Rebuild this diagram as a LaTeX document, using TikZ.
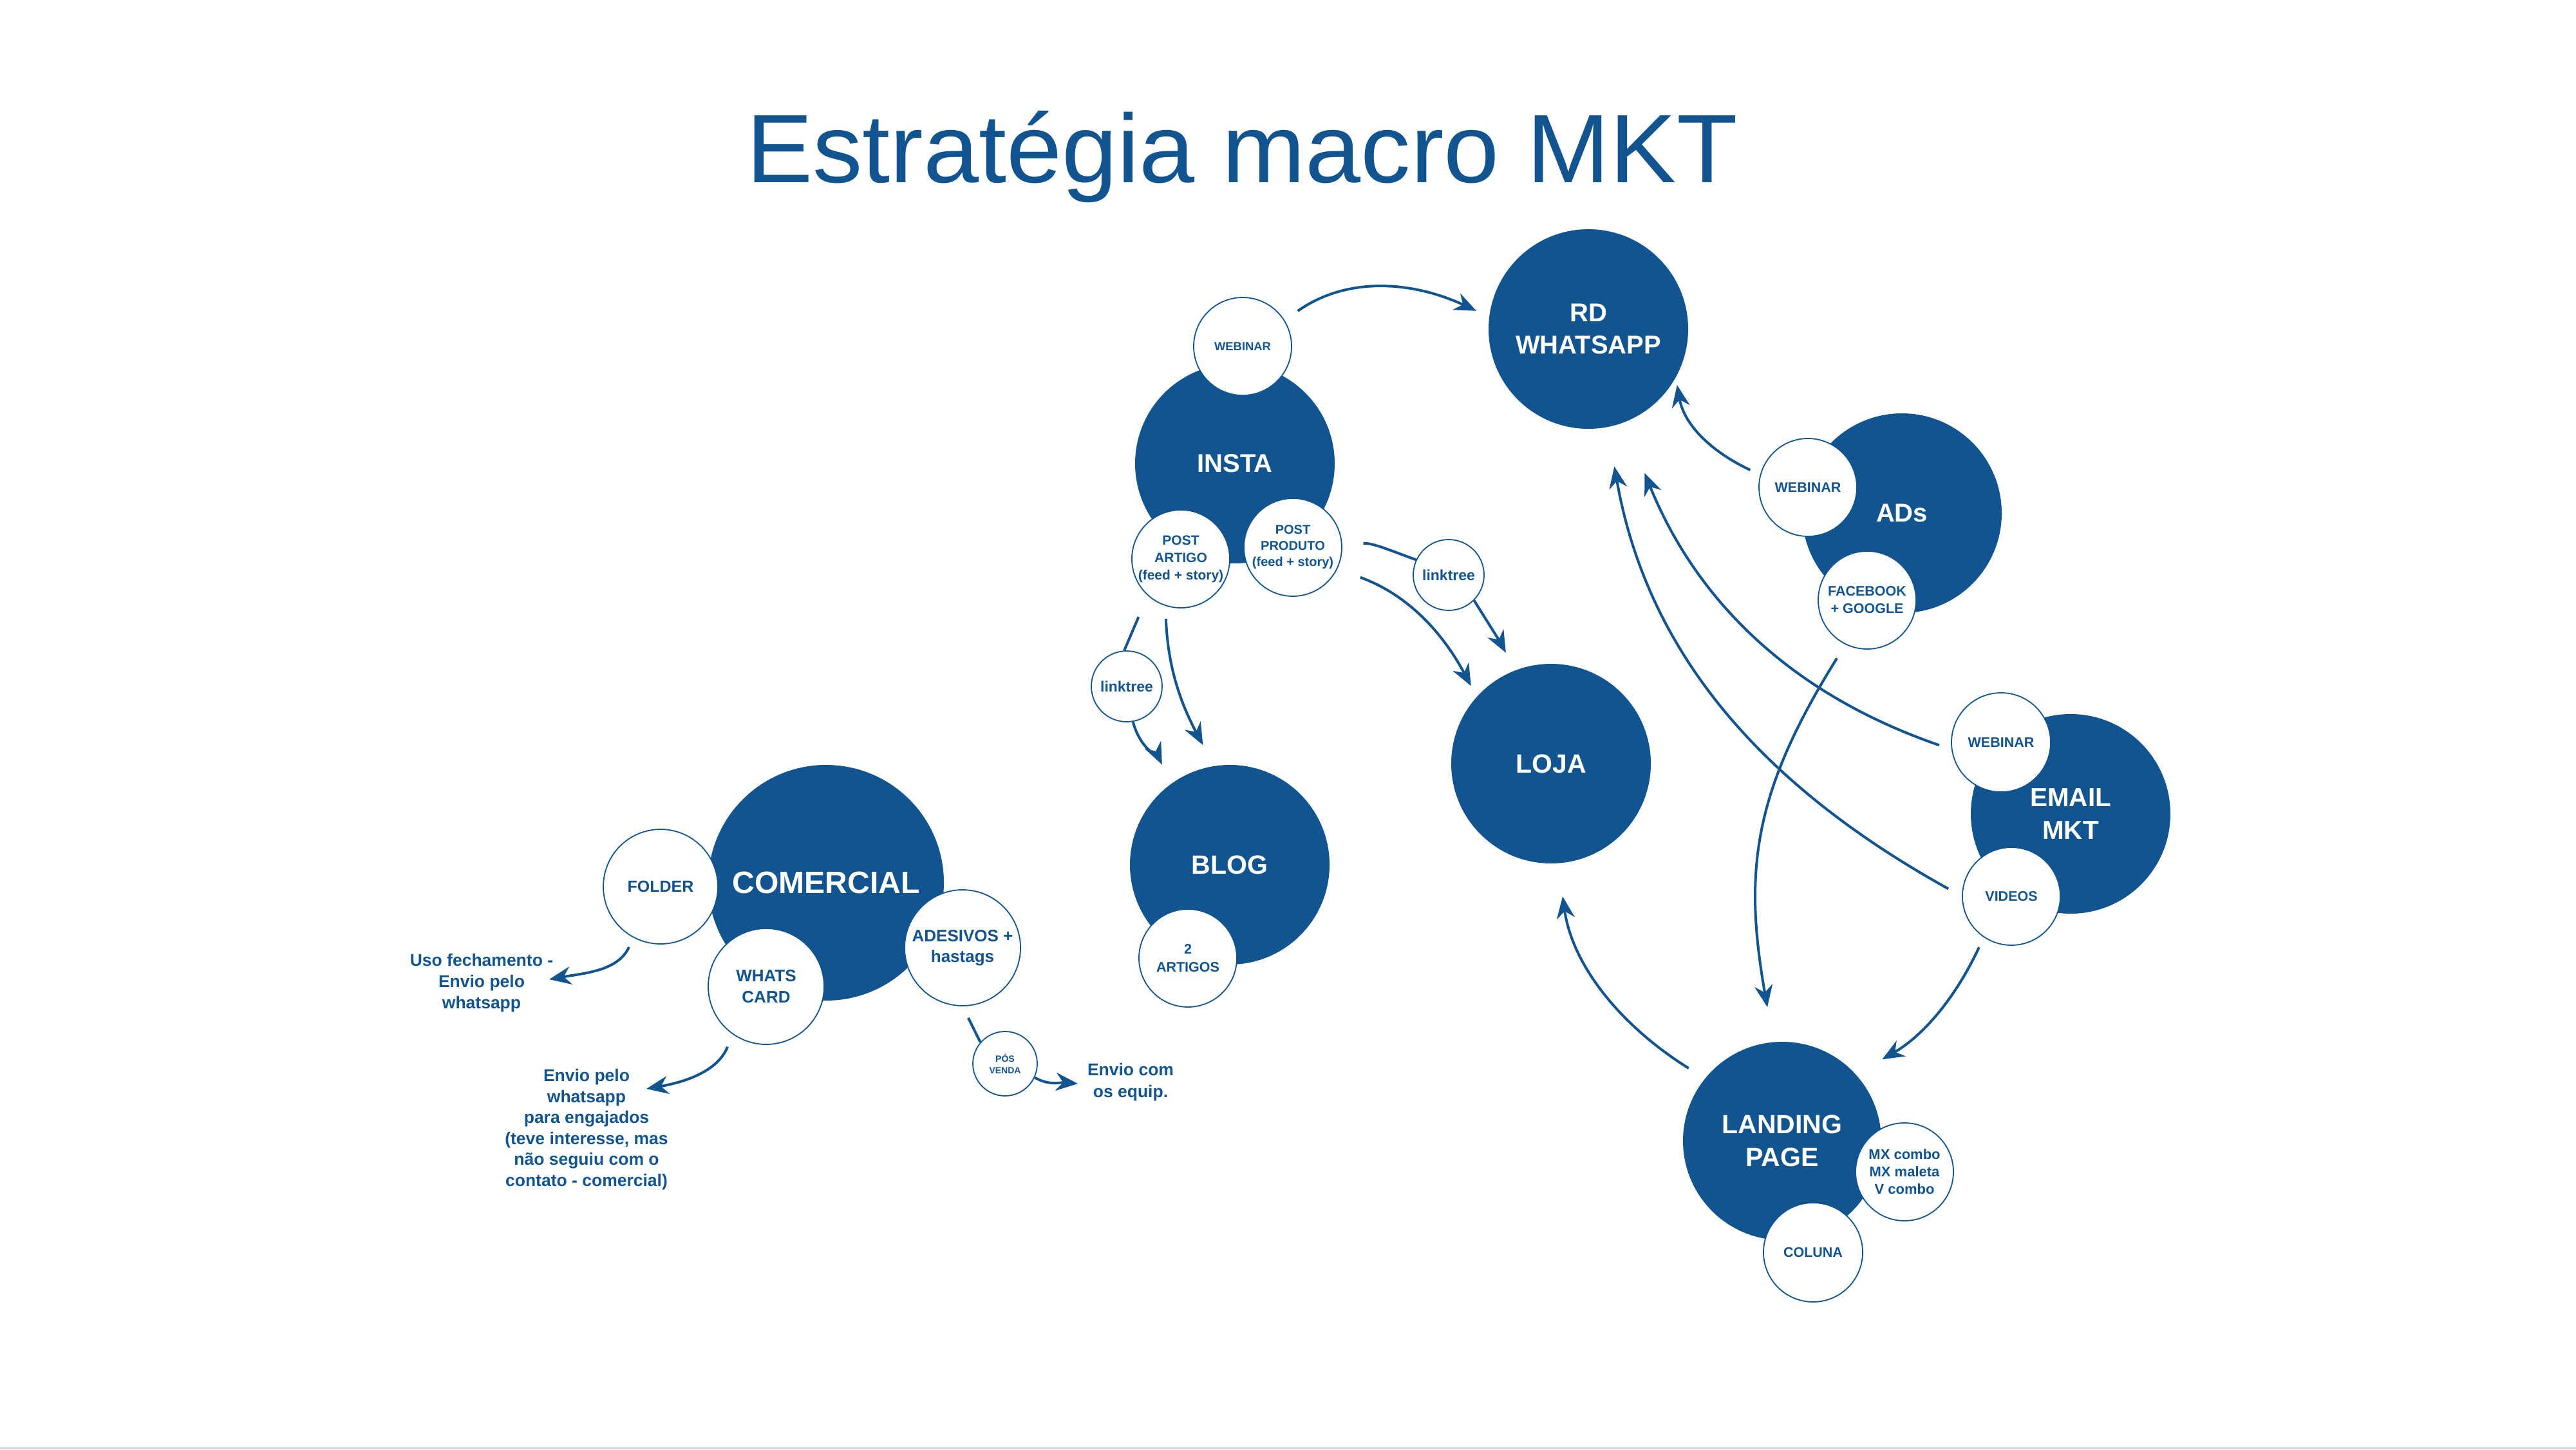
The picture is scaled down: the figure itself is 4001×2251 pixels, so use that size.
\documentclass[tikz,border=0pt]{standalone}
\usepackage{fontspec}
\setmainfont{Liberation Sans}
\newfontfamily\titlefont[FakeStretch=1.025]{Liberation Sans}
\usetikzlibrary{arrows.meta}
\definecolor{mkblue}{RGB}{17,84,143}
\definecolor{slideedge}{RGB}{222,216,236}
\begin{document}
\begin{tikzpicture}[x=1pt,y=1pt,
  big/.style={circle, fill=mkblue, text=white, inner sep=0pt, align=center, minimum size=310pt, font=\bfseries\fontsize{40}{50}\selectfont},
  sat/.style={circle, draw=mkblue, line width=1.8pt, fill=white, text=mkblue, inner sep=-20pt, align=center, minimum size=152pt, font=\bfseries\fontsize{21.5}{27}\selectfont},
  arr/.style={mkblue, line width=4pt, -{Stealth[length=34pt,width=28pt,inset=11pt]}},
  lnk/.style={mkblue, line width=4pt},
  note/.style={text=mkblue, align=center, inner sep=0pt, font=\bfseries\fontsize{26.5}{33}\selectfont}
]
\useasboundingbox (0,0) rectangle (4001,-2251);
\fill[white] (0,0) rectangle (4001,-2251);
\fill[slideedge] (0,-2247) rectangle (4001,-2251);

% title
\node[font=\titlefont\fontsize{151}{160}\selectfont, text=mkblue, anchor=base, inner sep=0pt] (title) at (1929,-283) {Estratégia macro MKT};

% main circles
\node[big] (rd) at (2467,-511) {RD\\WHATSAPP};
\node[big] (insta) at (1918,-720) {INSTA};
\node[big, font=\bfseries\fontsize{41}{50}\selectfont] (blog) at (1910,-1343) {BLOG};
\node[big, font=\bfseries\fontsize{41}{50}\selectfont] (loja) at (2409,-1186) {LOJA};
\node[big] (ads) at (2954,-797) {ADs};
\node[big, font=\bfseries\fontsize{40.5}{51}\selectfont] (email) at (3216,-1264) {EMAIL\\MKT};
\node[big, minimum size=308pt, font=\bfseries\fontsize{41}{51}\selectfont] (lp) at (2768,-1772) {LANDING\\PAGE};
\node[big, minimum size=366pt, font=\bfseries\fontsize{48}{56}\selectfont] (com) at (1283,-1371) {COMERCIAL};

% satellites
\node[sat, font=\bfseries\fontsize{18.4}{22}\selectfont] (web1) at (1930,-538) {WEBINAR};
\node[sat, font=\bfseries\fontsize{21}{27}\selectfont] (part) at (1834,-868) {POST\\ARTIGO\\(feed + story)};
\node[sat, font=\bfseries\fontsize{20}{25}\selectfont] (pprod) at (2008,-850) {POST\\PRODUTO\\(feed + story)};
\node[sat, minimum size=110pt, font=\bfseries\fontsize{23}{27}\selectfont] (lt1) at (2250,-893) {linktree};
\node[sat, minimum size=110pt, font=\bfseries\fontsize{23}{27}\selectfont] (lt2) at (1750,-1066) {linktree};
\node[sat, font=\bfseries\fontsize{21.5}{27.5}\selectfont] (art2) at (1845,-1488) {2\\ARTIGOS};
\node[sat] (web2) at (2808,-757) {WEBINAR};
\node[sat] (fb) at (2900,-932) {FACEBOOK\\+ GOOGLE};
\node[sat, minimum size=154pt] (web3) at (3108,-1153) {WEBINAR};
\node[sat] (videos) at (3124,-1392) {VIDEOS};
\node[sat, font=\bfseries\fontsize{22}{27}\selectfont] (mx) at (2958,-1820) {MX combo\\MX maleta\\V combo};
\node[sat, minimum size=154pt] (coluna) at (2816,-1945) {COLUNA};
\node[sat, minimum size=178pt, font=\bfseries\fontsize{25}{30}\selectfont] (folder) at (1026,-1377) {FOLDER};
\node[sat, minimum size=180pt, font=\bfseries\fontsize{26}{32.6}\selectfont] (wcard) at (1190,-1532) {WHATS\\CARD};
\node[sat, minimum size=180pt, font=\bfseries\fontsize{26}{32}\selectfont] (ades) at (1495,-1472) {ADESIVOS +\\hastags};
\node[sat, minimum size=100pt, font=\bfseries\fontsize{14}{18}\selectfont] (posv) at (1561,-1652) {PÓS\\VENDA};

% free texts
\node[note] (uso) at (748,-1527) {Uso fechamento -\\Envio pelo\\whatsapp};
\node[note, font=\bfseries\fontsize{26.5}{32.5}\selectfont] (envio) at (911,-1754) {Envio pelo\\whatsapp\\para engajados\\(teve interesse, mas\\não seguiu com o\\contato - comercial)};
\node[note, font=\bfseries\fontsize{26.5}{34}\selectfont] (eqp) at (1756,-1681) {Envio com\\os equip.};
\coordinate (usoTip) at (853,-1521);
\coordinate (envioTip) at (1004,-1691);
\coordinate (eqpTip) at (1674,-1683);

% connectors
\draw[arr, shorten <=25pt, shorten >=22pt] (web1.32) to[out=35,in=155] (rd.173);
\draw[arr, shorten <=17pt, shorten >=12pt] (web2.165) to[out=155,in=-80] (rd.-29);
\draw[arr, shorten <=24pt, shorten >=62pt] (videos.180) to[out=151,in=-80] (rd.-79);
\draw[arr, shorten <=20pt, shorten >=85pt] (web3.188) to[out=161,in=-68] (rd.-69);
\draw[arr, shorten <=25pt, shorten >=55pt] (fb.-116) to[out=-122,in=100,looseness=1.1] (lp.95);
\draw[arr, shorten <=17pt, shorten >=47pt] (videos.-124) to[out=-115,in=30] (lp.42);
\draw[arr, shorten <=30pt, shorten >=52pt] (lp.141) to[out=148,in=-82] (loja.-86);
\draw[lnk, shorten <=33pt] (pprod.1) to[out=8,in=160] (lt1.155);
\draw[arr, shorten >=31pt] (lt1.-45) to[out=-58,in=118] (loja.111);
\draw[arr, shorten <=38pt, shorten >=19pt] (pprod.-26) to[out=-20,in=118] (loja.138);
\draw[lnk, shorten <=36pt] (part.-132) -- (lt2.94);
\draw[arr, shorten >=33pt] (lt2.-80) to[out=-75,in=115] (blog.126);
\draw[arr, shorten <=20pt, shorten >=37pt] (part.-108) to[out=-88,in=118] (blog.99);
\draw[arr, shorten <=16pt] (folder.-118) to[out=-115,in=10] (usoTip);
\draw[arr, shorten <=21pt] (wcard.-125) to[out=-112,in=10] (envioTip);
\draw[lnk, shorten <=20pt] (ades.-90) -- (posv.139);
\draw[arr] (posv.-25) to[out=-30,in=175] (eqpTip);
\end{tikzpicture}
\end{document}
